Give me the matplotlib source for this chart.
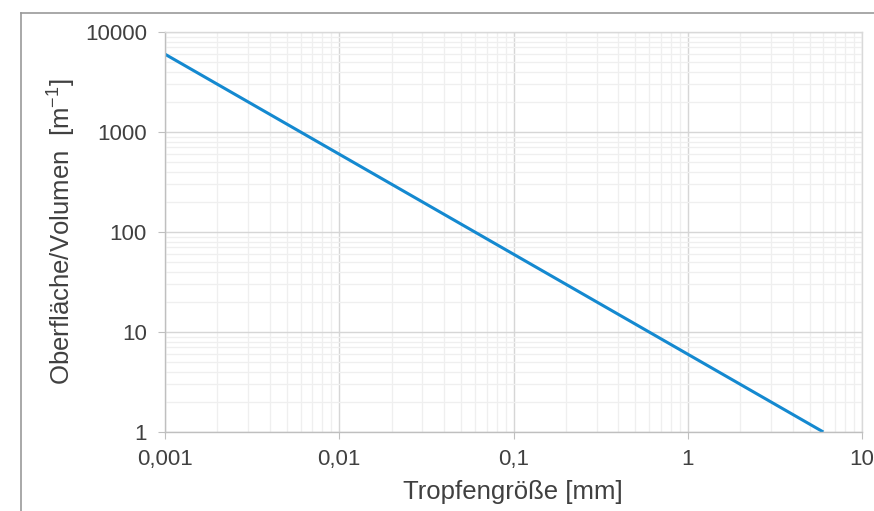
import numpy as np
import matplotlib.pyplot as plt
from matplotlib.lines import Line2D
from matplotlib.ticker import FixedLocator, LogLocator, NullFormatter

# drop size [mm] and surface/volume ratio
drop_size = [0.001, 0.01, 0.1, 1, 6]
surf_vol = [6000, 600, 60, 6, 1]

x_ticks = [0.001, 0.01, 0.1, 1, 10]
x_labels = ['0,001', '0,01', '0,1', '1', '10']
y_ticks = [1, 10, 100, 1000, 10000]
y_labels = ['1', '10', '100', '1000', '10000']

plt.rcParams['font.family'] = ['Liberation Sans', 'DejaVu Sans']

W, H = 874, 511
fig = plt.figure(figsize=(W/100, H/100), dpi=100)
ax = fig.add_axes([165/W, 1 - 432/H, (862-165)/W, (432-32)/H])

ax.plot(drop_size, surf_vol, color='#1489d0', lw=2.2, solid_capstyle='butt')

ax.set_xscale('log')
ax.set_yscale('log')
ax.set_xlim(0.001, 10)
ax.set_ylim(1, 10000)

ax.xaxis.set_major_locator(FixedLocator(x_ticks))
ax.set_xticklabels(x_labels)
ax.yaxis.set_major_locator(FixedLocator(y_ticks))
ax.set_yticklabels(y_labels)
ax.xaxis.set_minor_locator(LogLocator(base=10, subs=np.arange(2, 10)))
ax.yaxis.set_minor_locator(LogLocator(base=10, subs=np.arange(2, 10)))
ax.xaxis.set_minor_formatter(NullFormatter())
ax.yaxis.set_minor_formatter(NullFormatter())

ax.grid(which='major', color='#d6d6d6', lw=1.0)
ax.grid(which='minor', color='#efefef', lw=0.9)
ax.set_axisbelow(True)

for s in ax.spines.values():
    s.set_color('#d9d9d9')
    s.set_linewidth(1.0)
ax.spines['left'].set_color('#bfbfbf')
ax.spines['bottom'].set_color('#bfbfbf')

ax.tick_params(which='major', length=5, color='#bfbfbf', labelsize=16,
               labelcolor='#404040')
ax.tick_params(axis='y', pad=8)
ax.tick_params(axis='x', pad=7)
ax.tick_params(which='minor', length=0)

ax.set_xlabel('Tropfengröße [mm]', fontsize=18.5, color='#404040')
ax.set_ylabel(r'Oberfläche/Volumen  [m$^{\mathregular{-1}}$]', fontsize=18.5,
              color='#404040')
# place axis labels where they sit in the original (pixel coords)
ax.xaxis.set_label_coords((513-165)/(862-165), -(492-432)/(432-32))
ax.yaxis.set_label_coords(-(165-61)/(862-165), (432-232)/(432-32))
ax.xaxis.label.set_verticalalignment('center')
ax.yaxis.label.set_verticalalignment('center')

# outer frame lines (top and left) of the original figure
fig.add_artist(Line2D([21/W, 21/W], [0, 1 - 13/H], color='#999999', lw=1.2,
                      transform=fig.transFigure))
fig.add_artist(Line2D([21/W, 1], [1 - 13/H, 1 - 13/H], color='#999999', lw=1.2,
                      transform=fig.transFigure))

fig.savefig('out.png', dpi=100)
